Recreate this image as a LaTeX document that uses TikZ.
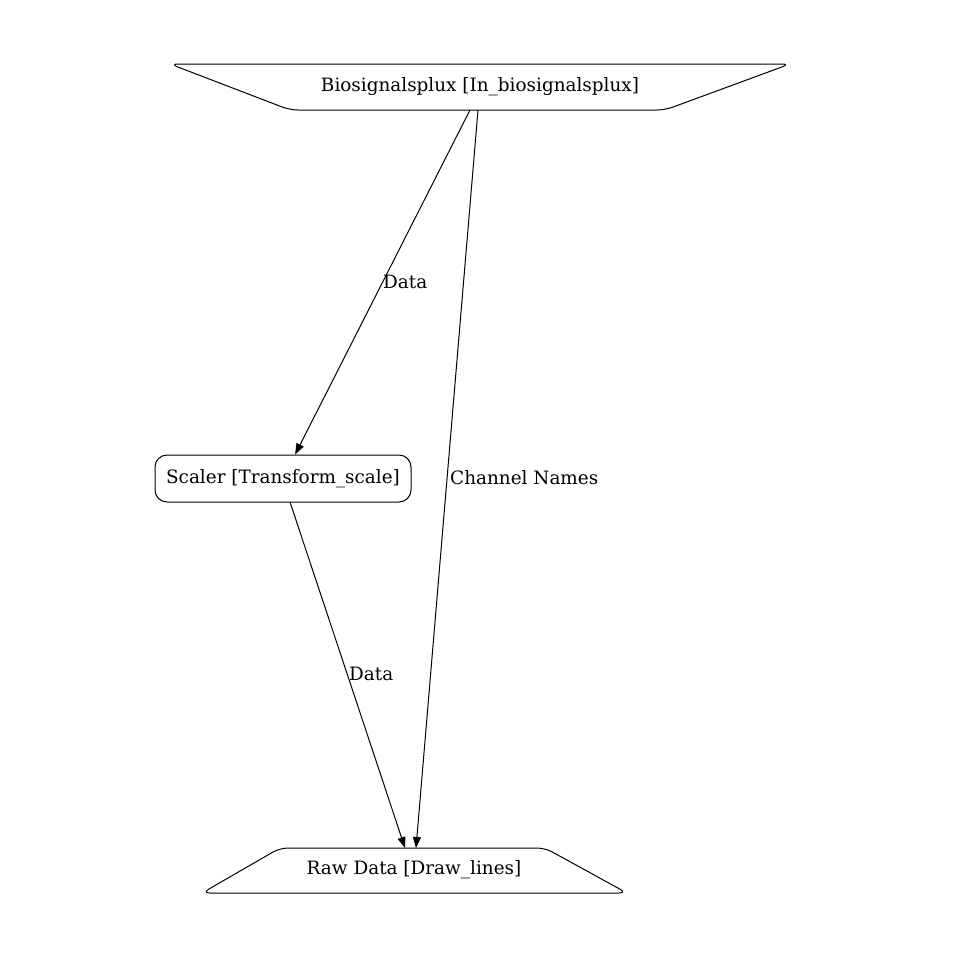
\documentclass[tikz,border=0pt]{standalone}
\usepackage{fontspec}
\setmainfont{DejaVu Serif}
\usetikzlibrary{arrows.meta}
\tikzset{
  txt/.style={inner sep=0pt, font=\fontsize{18.4}{22}\selectfont},
  lbl/.style={inner sep=0pt, font=\fontsize{18.4}{22}\selectfont},
  shapeline/.style={draw=black, line width=1pt, rounded corners=8pt},
  edge/.style={draw=black, line width=1pt, -{Triangle[length=11pt,width=8pt]}},
}
\begin{document}
\begin{tikzpicture}[x=1pt,y=-1pt]
\useasboundingbox (0,0) rectangle (960,958);
% top trapezium
\draw[shapeline] (170,64) -- (790,64) -- (665,110) -- (290,110) -- cycle;
\node[txt] (bio) at (480,87) {Biosignalsplux [In\_biosignalsplux]};
\coordinate (bioA) at (470,110);
\coordinate (bioB) at (478,110);
% scaler
\node[draw, line width=1pt, rounded corners=12pt, minimum width=256pt, minimum height=47pt, inner sep=0pt, font=\fontsize{18.4}{22}\selectfont] (scaler) at (283,478.5) {Scaler [Transform\_scale]};
\coordinate (scA) at (290,502);
% bottom trapezium
\draw[shapeline] (280,848) -- (545,848) -- (627,893) -- (202,893) -- cycle;
\node[txt] (raw) at (414,870) {Raw Data [Draw\_lines]};
\coordinate (rawA) at (405,848);
\coordinate (rawB) at (416,848);
% edges
\draw[edge] (bioA) -- (scaler);
\draw[edge] (bioB) -- (rawB);
\draw[edge] (scA) -- (rawA);
% labels
\node[lbl, anchor=west] (l1) at (383,282) {Data};
\node[lbl, anchor=west] (l2) at (450,478) {Channel Names};
\node[lbl, anchor=west] (l3) at (349,674) {Data};
\end{tikzpicture}
\end{document}
